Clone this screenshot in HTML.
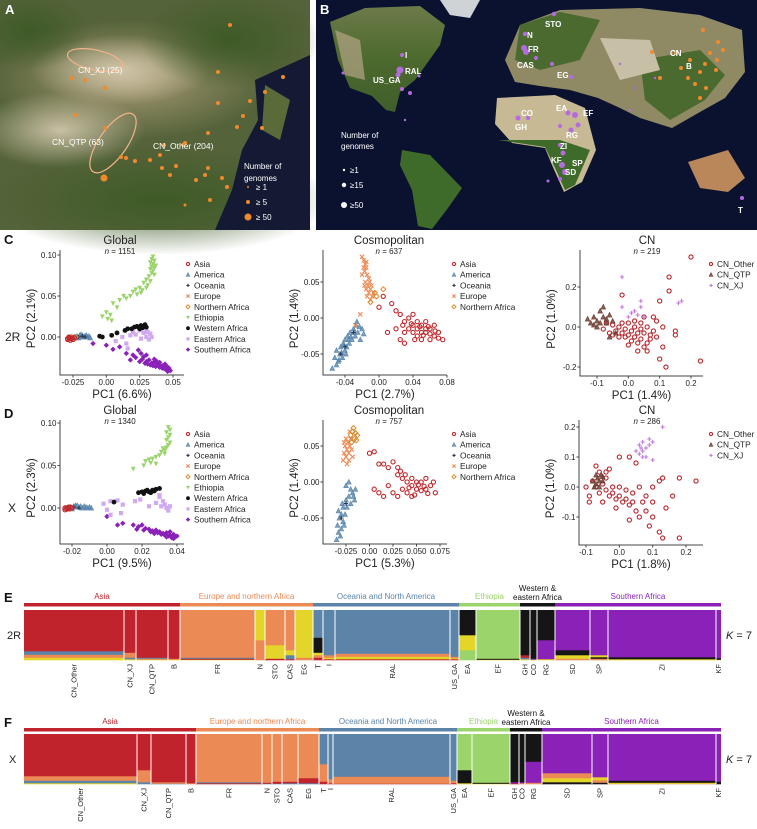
<!DOCTYPE html>
<html><head><meta charset="utf-8">
<style>
html,body{margin:0;padding:0;background:#fff;}
body{width:757px;height:829px;overflow:hidden;position:relative;font-family:"Liberation Sans",Arial,sans-serif;}
svg{position:absolute;left:0;top:0;}
</style></head>
<body>
<svg id="fig" width="757" height="829" viewBox="0 0 757 829" xmlns="http://www.w3.org/2000/svg" font-family="Liberation Sans, Arial, sans-serif">
<defs>
<radialGradient id="gA1" cx="0.5" cy="0.5" r="0.5"><stop offset="0" stop-color="#d6cbb0"/><stop offset="1" stop-color="#d6cbb0" stop-opacity="0"/></radialGradient>
<radialGradient id="gA3" cx="0.5" cy="0.5" r="0.5"><stop offset="0" stop-color="#a89a74"/><stop offset="1" stop-color="#a89a74" stop-opacity="0"/></radialGradient>
<radialGradient id="gA2" cx="0.5" cy="0.5" r="0.5"><stop offset="0" stop-color="#3e5a26"/><stop offset="1" stop-color="#3e5a26" stop-opacity="0"/></radialGradient>
<linearGradient id="gland" x1="0" y1="0" x2="0" y2="1"><stop offset="0" stop-color="#6d7a4a"/><stop offset="0.5" stop-color="#4c6a2e"/><stop offset="1" stop-color="#3f5e2a"/></linearGradient>
</defs>
<!-- Map A -->
<g>
<rect x="0" y="0" width="310" height="230" fill="#55633a"/>
<ellipse cx="130" cy="80" rx="140" ry="60" fill="url(#gA3)"/>
<ellipse cx="120" cy="70" rx="90" ry="35" fill="url(#gA1)" opacity="0.9"/>
<ellipse cx="60" cy="130" rx="85" ry="38" fill="url(#gA1)" opacity="0.9"/>
<ellipse cx="230" cy="40" rx="90" ry="50" fill="url(#gA2)"/>
<ellipse cx="160" cy="200" rx="170" ry="55" fill="url(#gA2)"/>
<ellipse cx="30" cy="30" rx="60" ry="40" fill="url(#gA2)"/>
<path d="M255,80 L310,55 L310,230 L215,230 L232,190 L242,150 L258,120 Z" fill="#141a33"/>
<path d="M265,85 L290,100 L280,140 L262,130 Z" fill="#5a6b3a"/>
<ellipse cx="95" cy="60" rx="28" ry="10" fill="none" stroke="#f1b48a" stroke-width="1.2" transform="rotate(12 95 60)"/>
<ellipse cx="113" cy="143" rx="35" ry="14" fill="none" stroke="#f1b48a" stroke-width="1.2" transform="rotate(-55 113 143)"/>
<g id="mapAdots"></g>
<text x="5" y="14" font-size="13" font-weight="bold" fill="#fff">A</text>
<text x="78" y="73" font-size="8.5" fill="#fff">CN_XJ (25)</text>
<text x="52" y="145" font-size="8.5" fill="#fff">CN_QTP (63)</text>
<text x="153" y="149" font-size="8.5" fill="#fff">CN_Other (204)</text>
<g font-size="8" fill="#fff">
<text x="244" y="169">Number of</text><text x="244" y="181">genomes</text>
<circle cx="248" cy="187" r="1" fill="#f08a2c"/><text x="256" y="190">≥ 1</text>
<circle cx="248" cy="202" r="2" fill="#f08a2c"/><text x="256" y="205">≥ 5</text>
<circle cx="248" cy="217" r="3.5" fill="#f08a2c"/><text x="256" y="220">≥ 50</text>
</g>
</g>
<!-- Map B -->
<g>
<rect x="316" y="0" width="441" height="230" fill="#0b1230"/>
<path d="M330,22 L365,8 L420,6 L445,25 L440,45 L428,62 L415,80 L400,92 L395,112 L386,110 L372,96 L350,88 L338,60 Z" fill="url(#gland)"/>
<path d="M335,30 L360,40 L365,80 L345,75 Z" fill="#b3a586" opacity="0.7"/>
<path d="M440,0 L480,0 L470,18 L450,15 Z" fill="#cfd3d6"/>
<path d="M402,150 L430,155 L462,188 L448,208 L432,229 L418,226 L412,190 L400,165 Z" fill="#3f6b2a"/>
<path d="M497,98 L555,95 L585,108 L596,150 L582,182 L564,192 L552,165 L545,148 L512,143 L495,124 Z" fill="#c7b994"/>
<path d="M498,140 L545,147 L556,170 L565,190 L575,185 L590,150 L560,140 Z" fill="#3f6b2a"/>
<path d="M505,60 L520,25 L560,10 L640,8 L700,15 L742,30 L745,72 L725,98 L700,112 L672,128 L640,118 L620,108 L598,98 L570,90 L540,86 L515,82 Z" fill="#8f8a64"/>
<path d="M520,25 L560,12 L600,20 L580,60 L540,70 L515,60 Z" fill="#4b6a30"/>
<path d="M640,60 L700,50 L725,75 L705,100 L670,120 L645,100 Z" fill="#4b6a30"/>
<path d="M600,38 L650,40 L660,70 L620,80 Z" fill="#c8bfa7"/>
<path d="M688,162 L728,150 L745,178 L728,192 L700,188 Z" fill="#b9875a"/>
<g id="mapBdots"></g>
<text x="320" y="14" font-size="13" font-weight="bold" fill="#fff">B</text>
<g id="mapBlabels" font-size="8" font-weight="bold" fill="#fff"></g>
<g font-size="8" fill="#fff">
<text x="341" y="138">Number of</text><text x="341" y="149">genomes</text>
<circle cx="344" cy="170" r="1.2" fill="#fff"/><text x="350" y="173">≥1</text>
<circle cx="344" cy="185" r="2.2" fill="#fff"/><text x="350" y="188">≥15</text>
<circle cx="344" cy="205" r="3" fill="#fff"/><text x="350" y="208">≥50</text>
</g>
</g>
<g id="pca"></g>
<g id="struct"></g>
</svg>
<script>
// ---------- map dots ----------
const mapADots=[[230,25,2],[218,72,2],[283,77,2],[265,92,2],[250,101,2],[243,116,2],[262,128,2],[237,127,2],[218,103,2],[208,133,2],[183,145,2],[205,175,2],[185,205,1.5],[222,178,2],[196,180,2],[176,166,2],[162,168,2],[164,145,2],[150,160,2],[104,178,3.5],[75,115,2],[105,128,2],[121,157,2],[135,161,2],[160,155,2],[170,175,2],[126,158,2],[85,80,2],[72,78,2],[105,88,2],[185,143,2],[210,200,2],[208,168,2],[227,187,2]];
const mapBDots=[[554,14,2.2],[525,34,2.2],[524,48,3],[526,52,3],[536,58,2],[552,64,2],[571,77,2],[402,55,2],[400,70,3.5],[398,75,2.5],[419,76,1.5],[402,89,2],[410,93,2],[343,73,1.5],[405,120,1.2],[518,118,2.5],[528,118,2],[575,115,3],[568,113,2.5],[578,125,2.5],[560,126,2],[571,130,2.5],[560,145,2],[563,153,2.5],[562,165,3],[565,172,3],[560,179,2],[548,181,1.5],[742,198,2],[630,110,1.2],[620,64,1.2],[655,78,1.2],[634,88,1.2]];
const mapBOrange=[[703,30],[718,42],[710,53],[690,60],[676,53],[705,64],[700,72],[688,78],[716,70],[695,84],[706,88],[660,78],[700,98],[717,60],[681,68],[723,50],[652,52]];
const mapBLabels=[["STO",545,27],["N",527,38],["FR",528,52],["CAS",517,68],["EG",557,78],["I",405,58],["RAL",405,74],["US_GA",373,83],["CN",670,56],["B",686,69],["EA",556,111],["EF",583,116],["CO",521,116],["GH",515,130],["RG",566,138],["ZI",560,149],["KF",551,163],["SP",572,166],["SD",565,175],["T",738,213]];
const NS="http://www.w3.org/2000/svg";
function mk(tag,attrs,parent){const e=document.createElementNS(NS,tag);for(const k in attrs)e.setAttribute(k,attrs[k]);if(parent)parent.appendChild(e);return e;}
(function(){
 const ga=document.getElementById('mapAdots');
 mapADots.forEach(d=>{const c=mk('circle',{cx:d[0],cy:d[1],r:d[2],fill:'#f08a2c'},ga);
 
 });
 const gb=document.getElementById('mapBdots');
 mapBOrange.forEach(d=>{const c=mk('circle',{cx:d[0],cy:d[1],r:2,fill:'#f08a2c'},gb);
 
 });
 mapBDots.forEach(d=>{const c=mk('circle',{cx:d[0],cy:d[1],r:d[2],fill:'#b56be0'},gb);
 
 });
 const gl=document.getElementById('mapBlabels');
 mapBLabels.forEach(d=>{const t=mk('text',{x:d[1],y:d[2]},gl);t.textContent=d[0];
 
 });
})();

// ---------- PCA data ----------
const g2R_asia=[[-0.029,-0.003],[-0.028,-0.001],[-0.027,-0.004],[-0.026,-0.002],[-0.028,0.0],[-0.025,-0.003],[-0.027,-0.002],[-0.024,-0.001],[-0.029,-0.002],[-0.026,0.0]];
const g2R_america=[[-0.024,0.0],[-0.022,0.001],[-0.02,0.0],[-0.018,0.002],[-0.016,0.001],[-0.021,-0.001],[-0.019,0.003],[-0.017,0.0],[-0.015,0.002],[-0.013,0.001],[-0.023,-0.001],[-0.014,0.0],[-0.012,-0.001],[-0.02,0.002]];
const g2R_oceania=[[-0.021,0.0],[-0.018,0.001],[-0.016,0.0]];
const g2R_europe=[[-0.026,-0.001],[-0.024,-0.002]];
const g2R_nafrica=[[-0.023,0.0]];
const g2R_ethiopia=[[0.035,0.098],[0.034,0.095],[0.036,0.093],[0.033,0.091],[0.035,0.089],[0.037,0.087],[0.034,0.086],[0.036,0.084],[0.033,0.083],[0.035,0.081],[0.034,0.078],[0.036,0.076],[0.032,0.074],[0.03,0.07],[0.033,0.068],[0.028,0.066],[0.031,0.063],[0.025,0.06],[0.027,0.057],[0.022,0.058],[0.02,0.055],[0.023,0.052],[0.018,0.05],[0.013,0.05],[0.015,0.047],[0.01,0.045],[0.005,0.041],[0.008,0.036],[0.0,0.03],[0.003,0.027],[-0.003,0.025],[0.001,0.022],[0.004,0.02],[0.026,0.054],[0.03,0.06]];
const g2R_western=[[-0.005,0.001],[-0.003,0.0],[0.004,0.002],[0.008,0.005],[0.014,0.008],[0.016,0.01],[0.019,0.01],[0.021,0.012],[0.024,0.012],[0.026,0.014],[0.028,0.013],[0.029,0.015],[0.03,0.012],[0.027,0.011],[0.025,0.01],[0.023,0.013]];
const g2R_eastern=[[0.007,-0.005],[0.012,0.0],[0.015,-0.008],[0.018,0.002],[0.02,0.006],[0.022,0.003],[0.025,0.008],[0.028,0.005],[0.03,0.0],[0.032,-0.003],[0.03,0.008],[0.033,0.004],[0.026,-0.002],[0.034,0.0],[0.031,0.006],[0.016,-0.014]];
const g2R_southern=[[-0.01,-0.008],[0.0,-0.01],[0.005,-0.015],[0.01,-0.012],[0.015,-0.02],[0.02,-0.022],[0.018,-0.028],[0.022,-0.025],[0.025,-0.03],[0.027,-0.027],[0.03,-0.03],[0.032,-0.028],[0.034,-0.032],[0.036,-0.03],[0.038,-0.033],[0.04,-0.031],[0.042,-0.035],[0.044,-0.033],[0.046,-0.037],[0.047,-0.04],[0.045,-0.04],[0.043,-0.038],[0.041,-0.036],[0.039,-0.034],[0.037,-0.036],[0.035,-0.035],[0.033,-0.034],[0.031,-0.033],[0.029,-0.032],[0.028,-0.024],[0.026,-0.02],[0.03,-0.022],[0.024,-0.016],[0.046,-0.042],[0.048,-0.041],[0.044,-0.039],[0.042,-0.038],[0.04,-0.037],[0.038,-0.03],[0.036,-0.027],[0.045,-0.035],[0.047,-0.038]];

const c2R_asia=[[0.01,-0.02],[0.02,0.01],[0.025,0.005],[0.03,-0.005],[0.035,0.0],[0.04,-0.01],[0.045,-0.015],[0.05,-0.01],[0.055,-0.02],[0.06,-0.015],[0.065,-0.025],[0.07,-0.02],[0.075,-0.03],[0.045,-0.025],[0.05,-0.03],[0.055,-0.005],[0.06,-0.03],[0.04,-0.02],[0.035,-0.015],[0.03,-0.02],[0.065,-0.01],[0.07,-0.028],[0.055,-0.015],[0.045,-0.005],[0.04,0.005],[0.05,-0.02],[0.06,-0.022],[0.03,-0.035],[0.025,-0.03],[0.02,-0.015],[0.058,-0.012],[0.052,-0.024],[0.048,-0.012],[0.066,-0.018],[0.042,-0.03],[0.038,-0.008],[0.028,-0.01],[0.015,0.02],[0.005,0.03],[0.0,0.015]];
const c2R_america=[[-0.055,-0.07],[-0.052,-0.055],[-0.05,-0.045],[-0.048,-0.06],[-0.046,-0.05],[-0.045,-0.04],[-0.043,-0.055],[-0.042,-0.035],[-0.04,-0.045],[-0.04,-0.03],[-0.038,-0.04],[-0.037,-0.025],[-0.035,-0.035],[-0.034,-0.02],[-0.032,-0.03],[-0.03,-0.015],[-0.028,-0.025],[-0.027,-0.01],[-0.025,-0.02],[-0.023,-0.012],[-0.02,-0.015],[-0.018,-0.022],[-0.044,-0.048],[-0.041,-0.038],[-0.036,-0.03],[-0.039,-0.05],[-0.047,-0.058],[-0.033,-0.026],[-0.029,-0.02],[-0.05,-0.065],[-0.026,-0.005],[-0.022,-0.03]];
const c2R_oceania=[[-0.04,-0.04],[-0.03,-0.02],[-0.045,-0.05]];
const c2R_europe=[[-0.02,0.085],[-0.018,0.08],[-0.016,0.075],[-0.015,0.07],[-0.017,0.065],[-0.014,0.06],[-0.012,0.055],[-0.016,0.05],[-0.013,0.045],[-0.01,0.04],[-0.015,0.04],[-0.012,0.035],[-0.008,0.03],[-0.014,0.03],[-0.01,0.025],[-0.018,0.07],[-0.015,0.078],[-0.011,0.05],[-0.009,0.045],[-0.02,0.06],[-0.006,0.035],[-0.017,0.045],[-0.022,0.005],[-0.028,-0.01]];
const c2R_nafrica=[[-0.005,0.035],[0.005,0.04],[-0.01,0.022],[-0.003,0.03]];
const cn2R_other=[[0.2,0.35],[0.13,0.25],[0.13,0.18],[0.23,-0.17],[0.12,-0.2],[0.15,-0.02],[0.15,-0.04],[-0.02,0.16],[0.11,-0.1],[0.1,-0.16],[0.1,0.13],[0.05,0.05],[0.06,-0.08],[0.07,-0.04],[0.05,-0.1],[0.04,-0.06],[0.03,-0.03],[0.02,-0.05],[0.01,-0.02],[0.0,-0.04],[-0.01,-0.01],[-0.02,-0.03],[-0.03,0.0],[-0.04,-0.02],[-0.05,0.01],[-0.06,-0.03],[-0.07,0.02],[-0.08,-0.01],[0.0,0.02],[0.02,0.0],[0.04,-0.01],[0.06,0.0],[0.08,-0.02],[0.09,0.03],[0.03,-0.08],[0.01,-0.07],[-0.01,-0.05],[0.05,-0.03],[0.07,-0.06],[0.08,0.05],[-0.03,-0.05],[0.02,0.03],[0.04,0.02],[-0.02,0.02],[0.06,-0.12],[0.03,-0.12],[0.09,-0.05],[0.11,0.0],[-0.05,-0.04],[0.0,-0.09]];
const cn2R_qtp=[[-0.13,0.04],[-0.12,0.02],[-0.11,0.05],[-0.1,0.03],[-0.09,0.08],[-0.08,0.05],[-0.07,0.02],[-0.06,0.06],[-0.1,0.0],[-0.08,0.1],[-0.07,0.04],[-0.05,0.03],[-0.09,0.02],[-0.06,-0.05],[-0.11,0.01],[-0.04,-0.03]];
const cn2R_xj=[[-0.02,0.25],[0.0,0.05],[0.01,0.07],[0.02,0.08],[0.03,0.06],[0.04,0.13],[0.04,0.1],[0.05,0.05],[0.16,0.12],[0.17,0.13],[-0.02,0.1]];

const gX_asia=[[-0.024,-0.002],[-0.023,0.0],[-0.022,-0.001],[-0.021,0.001],[-0.023,-0.001],[-0.02,0.0],[-0.022,0.001],[-0.024,0.0]];
const gX_america=[[-0.021,0.0],[-0.019,0.002],[-0.018,0.001],[-0.017,0.003],[-0.016,0.001],[-0.015,0.002],[-0.014,0.0],[-0.013,0.002],[-0.012,0.001],[-0.011,0.0],[-0.01,0.001],[-0.009,0.0],[-0.02,-0.001],[-0.018,0.003]];
const gX_oceania=[[-0.019,0.001],[-0.016,0.0]];
const gX_europe=[[-0.023,0.001],[-0.022,-0.002]];
const gX_nafrica=[[-0.021,0.001]];
const gX_ethiopia=[[0.035,0.095],[0.036,0.092],[0.034,0.089],[0.036,0.086],[0.035,0.083],[0.034,0.08],[0.036,0.077],[0.035,0.074],[0.034,0.071],[0.033,0.068],[0.031,0.066],[0.033,0.064],[0.03,0.062],[0.028,0.06],[0.026,0.058],[0.024,0.057],[0.022,0.055],[0.025,0.053],[0.021,0.05],[0.028,0.052],[0.015,0.046],[0.032,0.07]];
const gX_western=[[0.004,0.007],[0.018,0.018],[0.02,0.019],[0.022,0.02],[0.024,0.019],[0.026,0.021],[0.028,0.022],[0.03,0.023],[0.021,0.017],[0.025,0.018],[0.027,0.02],[0.023,0.021]];
const gX_eastern=[[-0.002,0.005],[0.0,-0.002],[0.002,0.008],[0.006,0.009],[0.009,0.004],[0.008,-0.006],[0.002,-0.008],[0.016,0.008],[0.019,0.01],[0.03,0.013],[0.032,0.008],[0.033,0.004],[0.034,0.0],[0.035,-0.003],[0.031,0.002],[0.028,0.006],[0.024,0.002],[0.036,0.002],[0.03,0.015]];
const gX_southern=[[0.0,-0.01],[0.006,-0.02],[0.009,-0.018],[0.015,-0.02],[0.018,-0.022],[0.02,-0.02],[0.022,-0.024],[0.024,-0.025],[0.026,-0.027],[0.028,-0.026],[0.03,-0.028],[0.032,-0.03],[0.034,-0.029],[0.036,-0.032],[0.038,-0.031],[0.039,-0.034],[0.037,-0.035],[0.035,-0.033],[0.033,-0.032],[0.031,-0.031],[0.029,-0.029],[0.027,-0.03],[0.025,-0.028],[0.04,-0.033],[0.038,-0.036],[0.036,-0.028],[0.034,-0.034],[0.021,-0.026],[0.017,-0.025]];

const cX_asia=[[0.0,0.04],[0.005,0.042],[0.01,0.025],[0.015,0.025],[0.02,0.02],[0.025,0.028],[0.03,0.02],[0.03,0.01],[0.035,0.005],[0.04,0.0],[0.045,-0.005],[0.05,-0.01],[0.055,0.0],[0.06,-0.01],[0.065,-0.005],[0.07,-0.015],[0.04,-0.015],[0.045,0.005],[0.05,0.0],[0.055,-0.012],[0.06,0.005],[0.035,-0.01],[0.03,-0.02],[0.025,-0.015],[0.02,-0.005],[0.015,-0.02],[0.048,-0.018],[0.052,-0.004],[0.042,-0.008],[0.038,0.01],[0.058,-0.006],[0.062,-0.016],[0.068,0.0],[0.033,0.015],[0.045,-0.02],[0.005,-0.01],[0.01,-0.015]];
const cX_america=[[-0.035,-0.08],[-0.033,-0.07],[-0.034,-0.06],[-0.032,-0.05],[-0.03,-0.065],[-0.03,-0.045],[-0.028,-0.055],[-0.028,-0.035],[-0.026,-0.045],[-0.025,-0.025],[-0.024,-0.035],[-0.022,-0.02],[-0.02,-0.03],[-0.018,-0.015],[-0.016,-0.025],[-0.015,-0.01],[-0.025,-0.005],[-0.022,0.0],[-0.033,-0.04],[-0.031,-0.075],[-0.029,-0.03],[-0.027,-0.06],[-0.02,-0.01],[-0.017,-0.02]];
const cX_oceania=[[-0.03,-0.05],[-0.025,-0.03]];
const cX_europe=[[-0.028,0.03],[-0.027,0.04],[-0.026,0.05],[-0.025,0.035],[-0.024,0.045],[-0.023,0.055],[-0.022,0.04],[-0.021,0.05],[-0.02,0.06],[-0.025,0.06],[-0.022,0.03],[-0.019,0.045],[-0.018,0.035],[-0.027,0.055],[-0.024,0.025],[-0.021,0.07]];
const cX_nafrica=[[-0.02,0.065],[-0.018,0.07],[-0.016,0.06],[-0.015,0.068],[-0.014,0.058],[-0.017,0.075],[-0.013,0.065],[-0.019,0.055]];
const cnX_other=[[-0.1,0.0],[-0.09,-0.03],[-0.08,0.02],[-0.07,0.0],[-0.06,-0.02],[-0.05,0.01],[-0.04,-0.01],[-0.03,-0.03],[-0.02,-0.02],[-0.01,-0.04],[0.0,-0.03],[0.01,-0.05],[0.02,-0.04],[0.03,-0.06],[0.04,-0.05],[0.05,-0.08],[0.06,-0.1],[-0.05,-0.05],[-0.04,0.03],[-0.02,0.0],[0.0,0.0],[0.02,-0.01],[0.04,-0.02],[0.06,0.0],[0.08,-0.03],[0.08,-0.08],[0.1,-0.05],[0.12,-0.15],[0.13,-0.17],[0.18,-0.17],[0.1,-0.1],[0.14,-0.07],[0.16,-0.03],[0.18,0.03],[0.23,0.02],[0.12,0.02],[0.13,0.03],[0.1,0.0],[-0.03,0.06],[0.0,0.1],[0.03,0.1],[0.05,0.08],[-0.07,0.07],[-0.04,0.05],[0.09,-0.13],[0.07,-0.05],[-0.01,-0.07],[0.03,-0.11],[-0.09,-0.05],[-0.06,0.05]];
const cnX_qtp=[[-0.08,0.02],[-0.07,0.01],[-0.065,0.03],[-0.06,0.02],[-0.055,0.04],[-0.05,0.02],[-0.07,0.04],[-0.06,0.0],[-0.075,0.0],[-0.05,0.035]];
const cnX_xj=[[0.05,0.12],[0.06,0.14],[0.06,0.11],[0.07,0.15],[0.07,0.12],[0.08,0.13],[0.08,0.1],[0.09,0.14],[0.09,0.16],[0.1,0.15],[0.07,0.1],[0.1,0.09],[0.13,0.2],[0.065,0.13]];

const globalLegend=["Asia","America","Oceania","Europe","Northern Africa","Ethiopia","Western Africa","Eastern Africa","Southern Africa"];
const cosmoLegend=["Asia","America","Oceania","Europe","Northern Africa"];
const cnLegend=["CN_Other","CN_QTP","CN_XJ"];
const tickGlobal2Rx=[-0.025,0,0.025,0.05], tickGlobal2RxL=["-0.025","0.00","0.025","0.05"];
const tickGlobal2Ry=[0,0.05,0.1], tickGlobal2RyL=["0.00","0.05","0.10"];
const tickCosmo2Rx=[-0.04,0,0.04,0.08], tickCosmo2RxL=["-0.04","0.00","0.04","0.08"];
const tickCosmo2Ry=[-0.05,0,0.05], tickCosmo2RyL=["-0.05","0.00","0.05"];
const tickCN2Rx=[-0.1,0,0.1,0.2], tickCN2RxL=["-0.1","0.0","0.1","0.2"];
const tickCN2Ry=[-0.2,0,0.2], tickCN2RyL=["-0.2","0.0","0.2"];
const tickGlobalXx=[-0.02,0,0.02,0.04], tickGlobalXxL=["-0.02","0.00","0.02","0.04"];
const tickGlobalXy=[0,0.05,0.1], tickGlobalXyL=["0.00","0.05","0.10"];
const tickCosmoXx=[-0.025,0,0.025,0.05,0.075], tickCosmoXxL=["-0.025","0.00","0.025","0.050","0.075"];
const tickCosmoXy=[-0.05,0,0.05], tickCosmoXyL=["-0.05","0.00","0.05"];
const tickCNXx=[-0.1,0,0.1,0.2], tickCNXxL=["-0.1","0.0","0.1","0.2"];
const tickCNXy=[-0.1,0,0.1,0.2], tickCNXyL=["-0.1","0.0","0.1","0.2"];

const STY={
 "Asia":{c:"#c0282d",m:"oc"},"America":{c:"#5a86ad",m:"tri"},"Oceania":{c:"#2b3a55",m:"plus"},"Europe":{c:"#ec8a55",m:"x"},
 "Northern Africa":{c:"#d98a2b",m:"od"},"Ethiopia":{c:"#99d36a",m:"dtri"},"Western Africa":{c:"#111111",m:"fc"},
 "Eastern Africa":{c:"#cfaaf0",m:"sq"},"Southern Africa":{c:"#8a22b8",m:"fd"},
 "CN_Other":{c:"#b5262d",m:"oc"},"CN_QTP":{c:"#6b3a2e",m:"tri"},"CN_XJ":{c:"#c07ad8",m:"plus"}};

function marker(g,m,x,y,c,s){
 s=s||2.1;let e;
 if(m==="oc")e=mk('circle',{cx:x,cy:y,r:s,fill:'none',stroke:c,'stroke-width':1.1},g);
 else if(m==="fc")e=mk('circle',{cx:x,cy:y,r:s+0.3,fill:c},g);
 else if(m==="tri")e=mk('path',{d:`M${x},${y-s-0.5}L${x+s+0.3},${y+s}L${x-s-0.3},${y+s}Z`,fill:c,'fill-opacity':0.8,stroke:c,'stroke-width':0.6},g);
 else if(m==="dtri")e=mk('path',{d:`M${x},${y+s+0.5}L${x+s+0.3},${y-s}L${x-s-0.3},${y-s}Z`,fill:c},g);
 else if(m==="plus")e=mk('path',{d:`M${x-s},${y}H${x+s}M${x},${y-s}V${y+s}`,stroke:c,'stroke-width':1.1},g);
 else if(m==="x")e=mk('path',{d:`M${x-s},${y-s}L${x+s},${y+s}M${x+s},${y-s}L${x-s},${y+s}`,stroke:c,'stroke-width':1.1},g);
 else if(m==="od")e=mk('path',{d:`M${x},${y-s-0.4}L${x+s+0.4},${y}L${x},${y+s+0.4}L${x-s-0.4},${y}Z`,fill:'none',stroke:c,'stroke-width':1},g);
 else if(m==="fd")e=mk('path',{d:`M${x},${y-s-0.6}L${x+s+0.6},${y}L${x},${y+s+0.6}L${x-s-0.6},${y}Z`,fill:c},g);
 else if(m==="sq")e=mk('rect',{x:x-s,y:y-s,width:2*s,height:2*s,fill:c},g);
 return e;
}
function lin(v1,p1,v2,p2){const k=(p2-p1)/(v2-v1);return v=>p1+(v-v1)*k;}

function panel(cfg){
 const root=document.getElementById('pca');
 const g=mk('g',{},root);
 
 
 const X=lin(cfg.xa[0],cfg.xa[1],cfg.xa[2],cfg.xa[3]);
 const Y=lin(cfg.ya[0],cfg.ya[1],cfg.ya[2],cfg.ya[3]);
 const pts=mk('g',{},g);
 
 
 cfg.groups.forEach(([lab,arr])=>{const s=STY[lab];arr.forEach(p=>{const e=marker(pts,s.m,X(p[0]),Y(p[1]),s.c);
  
  });});
 const ax=mk('path',{d:`M${cfg.L},${cfg.T}V${cfg.B}H${cfg.R}`,fill:'none',stroke:'#444','stroke-width':1},g);
 
 
 cfg.xt.forEach((v,i)=>{const x=X(v);mk('line',{x1:x,x2:x,y1:cfg.B,y2:cfg.B+2.5,stroke:'#444'},g);
  const t=mk('text',{x:x,y:cfg.B+10,'font-size':8,'text-anchor':'middle',fill:'#222'},g);t.textContent=cfg.xtl[i];
  
  });
 cfg.yt.forEach((v,i)=>{const y=Y(v);mk('line',{x1:cfg.L-2.5,x2:cfg.L,y1:y,y2:y,stroke:'#444'},g);
  const t=mk('text',{x:cfg.L-3.5,y:y+3,'font-size':8,'text-anchor':'end',fill:'#222'},g);t.textContent=cfg.ytl[i];
  
  });
 const xt=mk('text',{x:(cfg.L+cfg.R)/2,y:cfg.B+23,'font-size':11.5,'text-anchor':'middle',fill:'#222'},g);xt.textContent=cfg.xlab;
 
 
 const yc=(cfg.T+cfg.B)/2+6, yx=cfg.L-25;
 const yt=mk('text',{x:yx,y:yc,'font-size':11.5,'text-anchor':'middle',fill:'#222',transform:`rotate(-90 ${yx} ${yc})`},g);yt.textContent=cfg.ylab;
 
 
 const tt=mk('text',{x:cfg.tx,y:cfg.ty,'font-size':11.5,'text-anchor':'middle',fill:'#222'},g);tt.textContent=cfg.title;
 
 
 const nt=mk('text',{x:cfg.tx,y:cfg.ty+10,'font-size':8,'text-anchor':'middle',fill:'#222'},g);
 const ni=mk('tspan',{'font-style':'italic'},nt);ni.textContent='n';
 const nr=mk('tspan',{},nt);nr.textContent=' = '+cfg.n;
 
 
 const lg=mk('g',{},g);
 
 
 cfg.legend.forEach((lab,i)=>{const y=cfg.ly+i*10.7;const s=STY[lab];marker(lg,s.m,cfg.lx,y,s.c,1.6);
  const t=mk('text',{x:cfg.lx+6,y:y+3,'font-size':8.3,fill:'#222'},lg);t.textContent=lab;
  
  });
}
panel({name:'pca-global-2r',L:60,R:184,T:250,B:375,xa:[-0.025,73,0.05,173],ya:[0,337,0.1,255],xt:tickGlobal2Rx,xtl:tickGlobal2RxL,yt:tickGlobal2Ry,ytl:tickGlobal2RyL,xlab:'PC1 (6.6%)',ylab:'PC2 (2.1%)',title:'Global',n:1151,tx:120,ty:244,legend:globalLegend,lx:188,ly:264,
 groups:[["Southern Africa",g2R_southern],["Ethiopia",g2R_ethiopia],["Eastern Africa",g2R_eastern],["Western Africa",g2R_western],["America",g2R_america],["Oceania",g2R_oceania],["Europe",g2R_europe],["Northern Africa",g2R_nafrica],["Asia",g2R_asia]]});
panel({name:'pca-cosmopolitan-2r',L:323,R:447,T:250,B:375,xa:[-0.04,345,0.04,413],ya:[0,318,0.05,282],xt:tickCosmo2Rx,xtl:tickCosmo2RxL,yt:tickCosmo2Ry,ytl:tickCosmo2RyL,xlab:'PC1 (2.7%)',ylab:'PC2 (1.4%)',title:'Cosmopolitan',n:637,tx:389,ty:244,legend:cosmoLegend,lx:454,ly:264,
 groups:[["America",c2R_america],["Oceania",c2R_oceania],["Asia",c2R_asia],["Europe",c2R_europe],["Northern Africa",c2R_nafrica]]});
panel({name:'pca-cn-2r',L:580,R:703,T:250,B:376,xa:[-0.1,597,0.2,691],ya:[0,327,0.2,287],xt:tickCN2Rx,xtl:tickCN2RxL,yt:tickCN2Ry,ytl:tickCN2RyL,xlab:'PC1 (1.4%)',ylab:'PC2 (1.0%)',title:'CN',n:219,tx:647,ty:244,legend:cnLegend,lx:711,ly:264,
 groups:[["CN_Other",cn2R_other],["CN_QTP",cn2R_qtp],["CN_XJ",cn2R_xj]]});
panel({name:'pca-global-x',L:60,R:184,T:420,B:544,xa:[-0.02,72,0.04,177],ya:[0,508,0.1,423],xt:tickGlobalXx,xtl:tickGlobalXxL,yt:tickGlobalXy,ytl:tickGlobalXyL,xlab:'PC1 (9.5%)',ylab:'PC2 (2.3%)',title:'Global',n:1340,tx:120,ty:414,legend:globalLegend,lx:188,ly:434,
 groups:[["Southern Africa",gX_southern],["Ethiopia",gX_ethiopia],["Eastern Africa",gX_eastern],["Western Africa",gX_western],["America",gX_america],["Oceania",gX_oceania],["Europe",gX_europe],["Northern Africa",gX_nafrica],["Asia",gX_asia]]});
panel({name:'pca-cosmopolitan-x',L:323,R:447,T:420,B:544,xa:[-0.025,346,0.075,440],ya:[0,482,0.05,446],xt:tickCosmoXx,xtl:tickCosmoXxL,yt:tickCosmoXy,ytl:tickCosmoXyL,xlab:'PC1 (5.3%)',ylab:'PC2 (1.4%)',title:'Cosmopolitan',n:757,tx:389,ty:414,legend:cosmoLegend,lx:454,ly:434,
 groups:[["America",cX_america],["Oceania",cX_oceania],["Asia",cX_asia],["Europe",cX_europe],["Northern Africa",cX_nafrica]]});
panel({name:'pca-cn-x',L:579,R:703,T:420,B:545,xa:[-0.1,586,0.2,686],ya:[0,487,0.2,427],xt:tickCNXx,xtl:tickCNXxL,yt:tickCNXy,ytl:tickCNXyL,xlab:'PC1 (1.8%)',ylab:'PC2 (1.0%)',title:'CN',n:286,tx:647,ty:414,legend:cnLegend,lx:711,ly:434,
 groups:[["CN_Other",cnX_other],["CN_QTP",cnX_qtp],["CN_XJ",cnX_xj]]});

// ---------- structure (ADMIXTURE K=7) ----------
const K_COLORS=["#c0232b","#ec8a55","#5b84a8","#9ad46a","#151515","#8a22b8","#e3d52a"];
const popNames=["CN_Other","CN_XJ","CN_QTP","B","FR","N","STO","CAS","EG","T","I","RAL","US_GA","EA","EF","GH","CO","RG","SD","SP","ZI","KF"];
const sizes2R=[100,12,32,12,75,10,20,10,18,10,12,115,9,17,44,10,7,18,35,18,108,5];
const sizesX=[113,14,35,10,66,10,10,16,21,9,5,117,7,15,38,9,6,17,50,16,108,5];
// proportions: red, orange, blue, green, black, purple, yellow
const comp2R=[[.82,.06,.07,0,0,0,.05],[.85,.1,.03,0,0,0,.02],[.95,.02,.02,0,0,0,.01],[.97,.02,0,0,0,0,.01],[.02,.95,.02,0,0,0,.01],[0,.4,0,0,0,0,.6],[.03,.7,0,0,0,0,.27],[.02,.8,.08,0,0,0,.1],[0,.05,0,0,0,0,.95],[.05,.05,.55,0,.3,0,.05],[.02,.05,.9,0,0,0,.03],[.02,.06,.87,0,0,0,.05],[.02,.03,.93,0,0,0,.02],[0,0,0,.2,.5,0,.3],[0,0,0,.97,.02,0,.01],[.05,0,.03,0,.9,0,.02],[0,0,0,0,.97,.02,.01],[0,0,0,0,.6,.38,.02],[0,.03,0,0,.1,.8,.07],[0,.03,0,0,.03,.9,.04],[0,0,0,0,.04,.94,.02],[0,0,0,0,.03,.96,.01]];
const compX=[[.84,.09,.05,0,0,0,.02],[.72,.24,.04,0,0,0,0],[.96,.03,.01,0,0,0,0],[.98,.02,0,0,0,0,0],[.02,.96,.02,0,0,0,0],[.02,.97,.01,0,0,0,0],[.04,.95,.01,0,0,0,0],[.03,.95,.02,0,0,0,0],[.1,.88,.02,0,0,0,0],[.05,.35,.6,0,0,0,0],[.02,.08,.9,0,0,0,0],[.01,.14,.85,0,0,0,0],[.02,.05,.93,0,0,0,0],[0,0,0,.72,.26,0,.02],[0,0,0,.97,.02,0,.01],[.02,0,0,0,.96,.02,0],[0,.02,0,0,.96,.02,0],[0,.03,0,0,.55,.42,0],[0,.1,0,0,.04,.78,.08],[0,.05,0,0,.03,.86,.06],[0,.01,0,0,.04,.93,.02],[0,0,0,0,.05,.95,0]];
const regionNames=["Asia","Europe and northern Africa","Oceania and North America","Ethiopia","Western & eastern Africa","Southern Africa"];
const regionColors=["#c0232b","#ec8a55","#5b84a8","#9ad46a","#151515","#8a22b8"];
const regionPops=[[0,3],[4,8],[9,12],[13,14],[15,17],[18,21]];

function structure(cfg){
 const root=document.getElementById('struct');
 const g=mk('g',{},root);
 
 
 const total=cfg.sizes.reduce((a,b)=>a+b,0);
 const W=697, X0=24;
 const sx=v=>X0+v/total*W;
 let cum=0;const starts=[];
 cfg.sizes.forEach(s=>{starts.push(cum);cum+=s;});
 const H=cfg.plotB-cfg.plotT;
 cfg.sizes.forEach((s,i)=>{
  const x0=sx(starts[i]),x1=sx(starts[i]+s);
  const comp=cfg.comp[i].map((v,k)=>[v,k]).filter(a=>a[0]>0).sort((a,b)=>a[0]-b[0]);
  const sum=comp.reduce((a,b)=>a+b[0],0);
  let y=cfg.plotB;
  const pg=mk('g',{},g);
  
  
  comp.forEach(([v,k])=>{const h=v/sum*H;y-=h;
   const r=mk('rect',{x:x0,y:y,width:x1-x0,height:h+0.3,fill:K_COLORS[k]},pg);
   
   });
  if(i>0){mk('line',{x1:x0,x2:x0,y1:cfg.plotT,y2:cfg.plotB,stroke:'#fff','stroke-width':1},g);}
  const lx=(x0+x1)/2+2.5,ly=cfg.plotB+4;
  const t=mk('text',{x:lx,y:ly,'font-size':7.5,'text-anchor':'end',fill:'#222',transform:`rotate(-90 ${lx} ${ly})`},g);t.textContent=popNames[i];
  
  
 });
 regionPops.forEach((rp,j)=>{
  const x0=sx(starts[rp[0]]),x1=sx(starts[rp[1]]+cfg.sizes[rp[1]]);
  const r=mk('rect',{x:x0,y:cfg.barY,width:x1-x0,height:3.5,fill:regionColors[j]},g);
  
  
  const cx=(x0+x1)/2;
  if(j===4){
   const t1=mk('text',{x:cx,y:cfg.barY-12,'font-size':8,'text-anchor':'middle',fill:'#111'},g);t1.textContent='Western &';
   
   
   const t2=mk('text',{x:cx,y:cfg.barY-3,'font-size':8,'text-anchor':'middle',fill:'#111'},g);t2.textContent='eastern Africa';
   
   
  } else {
   const t=mk('text',{x:cx,y:cfg.barY-4,'font-size':8,'text-anchor':'middle',fill:regionColors[j]},g);t.textContent=regionNames[j];
   
   
  }
 });
 const pl=mk('text',{x:4,y:cfg.barY-1,'font-size':13,'font-weight':'bold',fill:'#111'},g);pl.textContent=cfg.panel;
 
 
 const rl=mk('text',{x:cfg.rowX,y:(cfg.plotT+cfg.plotB)/2+4,'font-size':11,fill:'#222'},g);rl.textContent=cfg.row;
 
 
 const kl=mk('text',{x:726,y:(cfg.plotT+cfg.plotB)/2+4,'font-size':11,fill:'#222'},g);
 const ki=mk('tspan',{'font-style':'italic'},kl);ki.textContent='K';
 const kr=mk('tspan',{},kl);kr.textContent=' = 7';
 
 
}
structure({name:'admixture-2r',panel:'E',row:'2R',rowX:7,sizes:sizes2R,comp:comp2R,barY:603,plotT:610,plotB:660});
structure({name:'admixture-x',panel:'F',row:'X',rowX:9,sizes:sizesX,comp:compX,barY:728,plotT:734,plotB:784});

[["C",4,244],["D",4,418]].forEach(d=>{const t=mk('text',{x:d[1],y:d[2],'font-size':13,'font-weight':'bold',fill:'#111'},document.getElementById('pca'));t.textContent=d[0];
 
 });
[["2R",5,341],["X",8,512]].forEach(d=>{const t=mk('text',{x:d[1],y:d[2],'font-size':12,fill:'#222'},document.getElementById('pca'));t.textContent=d[0];
 
 });
</script>
</body></html>
